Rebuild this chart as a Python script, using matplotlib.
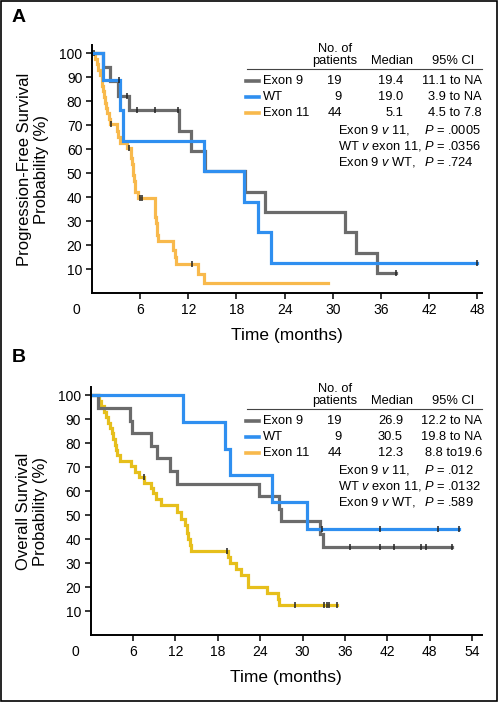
import numpy as np
import matplotlib
matplotlib.use("Agg")
import matplotlib.pyplot as plt

plt.rcParams['font.family'] = ['Liberation Sans', 'DejaVu Sans']
plt.rcParams['mathtext.fontset'] = 'custom'
plt.rcParams['mathtext.rm'] = 'Liberation Sans'
plt.rcParams['mathtext.it'] = 'Liberation Sans:italic'

GRAY = '#6b6b6b'
BLUE = '#2f8ff0'
ORANGE = '#f8b94c'
GOLD = '#e6bf1c'

# ---- Panel A: progression-free survival ----
a_ex9_t = [0, 1.4, 2.3, 3.2, 4.6, 10.9, 12.3, 14.1, 19.1, 21.6, 31.5, 32.9, 35.5]
a_ex9_s = [100, 94.4, 88.6, 82.4, 76.2, 67.7, 59.3, 50.8, 42.3, 33.9, 25.4, 16.9, 8.5]
a_ex9_cens = [0.3, 4.4, 5.6, 7.9, 10.7, 37.9]
a_ex9_end = 37.9

a_wt_t = [0, 1.4, 3.5, 3.9, 13.9, 18.9, 20.7, 22.3]
a_wt_s = [100, 88.9, 76.2, 63.5, 50.8, 38.1, 25.4, 12.7]
a_wt_cens = [3.4, 48.0]
a_wt_end = 48.0

a_ex11_t = [0, 0.4, 0.6, 0.8, 1.0, 1.2, 1.3, 1.4, 1.5, 1.6, 1.8, 1.9, 2.1, 2.3,
            3.1, 3.3, 3.5, 4.4, 4.9, 5.0, 5.05, 5.15, 5.2, 5.3, 5.4, 5.7,
            7.8, 7.85, 7.9, 8.0, 8.05, 8.1, 8.2, 10.1, 10.3, 10.5, 13.2, 13.9]
a_ex11_s = [100, 97.7, 95.5, 93.2, 90.9, 88.6, 86.4, 84.1, 81.8, 79.5, 77.3, 75.0, 72.7, 70.5,
            67.8, 65.2, 62.8, 60.6, 56.3, 53.9, 51.5, 49.1, 46.7, 44.4, 42.0, 39.6,
            37.1, 34.5, 31.9, 29.3, 26.7, 24.1, 21.5, 17.9, 14.9, 11.9, 8.0, 4.0]
a_ex11_cens = [2.4, 4.6, 6.0, 6.2, 12.5]
a_ex11_end = 29.4

# ---- Panel B: overall survival ----
b_ex9_t = [0, 1.0, 5.6, 5.8, 8.5, 9.4, 11.2, 12.3, 23.9, 26.7, 26.9, 32.5, 32.9]
b_ex9_s = [100, 94.7, 89.5, 84.2, 78.9, 73.7, 68.4, 63.2, 57.9, 52.6, 47.4, 42.1, 36.8]
b_ex9_cens = [36.7, 40.9, 42.9, 46.8, 47.5, 51.1]
b_ex9_end = 51.1

b_wt_t = [0, 13.1, 19.0, 19.8, 25.7, 30.6]
b_wt_s = [100, 88.9, 77.8, 66.7, 55.6, 44.4]
b_wt_cens = [32.7, 40.9, 49.2, 52.2]
b_wt_end = 52.2

b_ex11_t = [0, 1.2, 1.5, 1.9, 2.2, 2.5, 2.8, 3.0, 3.2, 3.4, 3.6, 3.8, 4.1, 5.7, 6.3, 6.9,
            7.6, 8.6, 8.9, 9.3, 10.0, 12.3, 12.8, 13.3, 13.6, 13.8, 14.0, 14.2,
            19.4, 19.7, 20.6, 21.3, 22.3, 24.9, 26.5, 26.7]
b_ex11_s = [100, 97.7, 95.5, 93.2, 90.9, 88.6, 86.4, 84.1, 81.8, 79.5, 77.3, 75.0, 72.7, 70.5, 68.2, 65.9,
            63.6, 61.4, 59.1, 56.8, 54.3, 51.4, 48.6, 45.8, 42.4, 40.0, 37.6, 35.2,
            32.5, 30.0, 27.6, 25.0, 20.1, 17.4, 15.0, 12.5]
b_ex11_cens = [7.5, 19.3, 29.0, 33.1, 33.5, 33.8, 34.9]
b_ex11_end = 34.9

# table text
a_rows = [("Exon 9", "19", "19.4", "11.1 to NA"),
          ("WT", "9", "19.0", "3.9 to NA"),
          ("Exon 11", "44", "5.1", "4.5 to 7.8")]
a_pvals = [(r"Exon 9 $\mathit{v}$ 11,", ".0005"),
           (r"WT $\mathit{v}$ exon 11,", ".0356"),
           (r"Exon 9 $\mathit{v}$ WT,", ".724")]
b_rows = [("Exon 9", "19", "26.9", "12.2 to NA"),
          ("WT", "9", "30.5", "19.8 to NA"),
          ("Exon 11", "44", "12.3", "8.8 to19.6")]
b_pvals = [(r"Exon 9 $\mathit{v}$ 11,", ".012"),
           (r"WT $\mathit{v}$ exon 11,", ".0132"),
           (r"Exon 9 $\mathit{v}$ WT,", ".589")]

W, H = 500, 702
fig = plt.figure(figsize=(W / 100, H / 100), dpi=100)


def fx(px):
    return px / W


def fy(py):
    return 1 - py / H


def km(ax, t, s, cens, end, color):
    t = np.asarray(t, float)
    s = np.asarray(s, float)
    ax.step(np.append(t, end), np.append(s, s[-1]), where='post',
            color=color, lw=2.3, solid_joinstyle='miter')
    c = np.asarray(cens, float)
    cs = s[np.searchsorted(t, c, side='right') - 1]
    ax.plot(c, cs, ls='none', marker='|', ms=5, mew=1.1, color='#222222')


def panel(left, bottom, width, height, xmax, xticks, ylabel):
    ax = fig.add_axes([left, bottom, width, height])
    ax.set_xlim(0, xmax)
    ax.set_ylim(0, 103.5)
    ax.set_xticks(xticks)
    ax.set_yticks(np.arange(10, 101, 10))
    for sp in ['top', 'right']:
        ax.spines[sp].set_visible(False)
    for sp in ['left', 'bottom']:
        ax.spines[sp].set_linewidth(1.4)
    ax.tick_params(direction='out', length=4, width=1.1, labelsize=10, pad=3)
    ax.annotate("0", xy=(0, 0), xycoords='axes fraction', xytext=(-11, -7),
                textcoords='offset points', ha='center', va='top', fontsize=10)
    ax.set_xlabel("Time (months)", fontsize=12.5, labelpad=8)
    ax.set_ylabel(ylabel, fontsize=12, labelpad=7, linespacing=1.2)
    return ax


def table(y0, rows, pvals):
    fs = 9.3
    fig.text(fx(335), fy(y0 + 9), "No. of", ha='center', va='center', fontsize=fs)
    fig.text(fx(335), fy(y0 + 21), "patients", ha='center', va='center', fontsize=fs)
    fig.text(fx(392), fy(y0 + 21), "Median", ha='center', va='center', fontsize=fs)
    fig.text(fx(453), fy(y0 + 21), "95% CI", ha='center', va='center', fontsize=fs)
    fig.add_artist(plt.Line2D([fx(247), fx(482)], [fy(y0 + 29), fy(y0 + 29)],
                              color='#444444', lw=0.8))
    for i, (lab, n, med, ci) in enumerate(rows):
        y = fy(y0 + 41 + 16 * i)
        col = [GRAY, BLUE, ORANGE][i]
        fig.add_artist(plt.Line2D([fx(246), fx(259)], [y, y], color=col, lw=2.6))
        fig.text(fx(263), y, lab, ha='left', va='center', fontsize=fs)
        fig.text(fx(342), y, n, ha='right', va='center', fontsize=fs)
        fig.text(fx(403), y, med, ha='right', va='center', fontsize=fs)
        fig.text(fx(482), y, ci, ha='right', va='center', fontsize=fs)
    for i, (lab, p) in enumerate(pvals):
        y = fy(y0 + 90 + 16 * i)
        fig.text(fx(338), y, lab, ha='left', va='center', fontsize=fs)
        fig.text(fx(424), y, r"$\mathit{P}$ = " + p, ha='left', va='center', fontsize=fs)


# Panel A
axA = panel(fx(92), fy(293), fx(390), (293 - 45) / H, 48.6, np.arange(6, 49, 6),
            "Progression-Free Survival\nProbability (%)")
km(axA, a_ex11_t, a_ex11_s, a_ex11_cens, a_ex11_end, ORANGE)
km(axA, a_ex9_t, a_ex9_s, a_ex9_cens, a_ex9_end, GRAY)
km(axA, a_wt_t, a_wt_s, a_wt_cens, a_wt_end, BLUE)
table(40, a_rows, a_pvals)

# Panel B
axB = panel(fx(90.6), fy(635), fx(391.4), (635 - 387) / H, 55.4, np.arange(6, 55, 6),
            "Overall Survival\nProbability (%)")
km(axB, b_ex11_t, b_ex11_s, b_ex11_cens, b_ex11_end, GOLD)
km(axB, b_ex9_t, b_ex9_s, b_ex9_cens, b_ex9_end, GRAY)
km(axB, b_wt_t, b_wt_s, b_wt_cens, b_wt_end, BLUE)
table(380, b_rows, b_pvals)

fig.text(fx(12), fy(18), "A", fontsize=14, fontweight='bold', va='center', ha='left')
fig.text(fx(12), fy(357), "B", fontsize=14, fontweight='bold', va='center', ha='left')

fig.add_artist(plt.Rectangle((0.001, 0.001), 0.993, 0.997, transform=fig.transFigure,
                             fill=False, lw=1.2, color='black'))

fig.savefig("out.png", dpi=100)
